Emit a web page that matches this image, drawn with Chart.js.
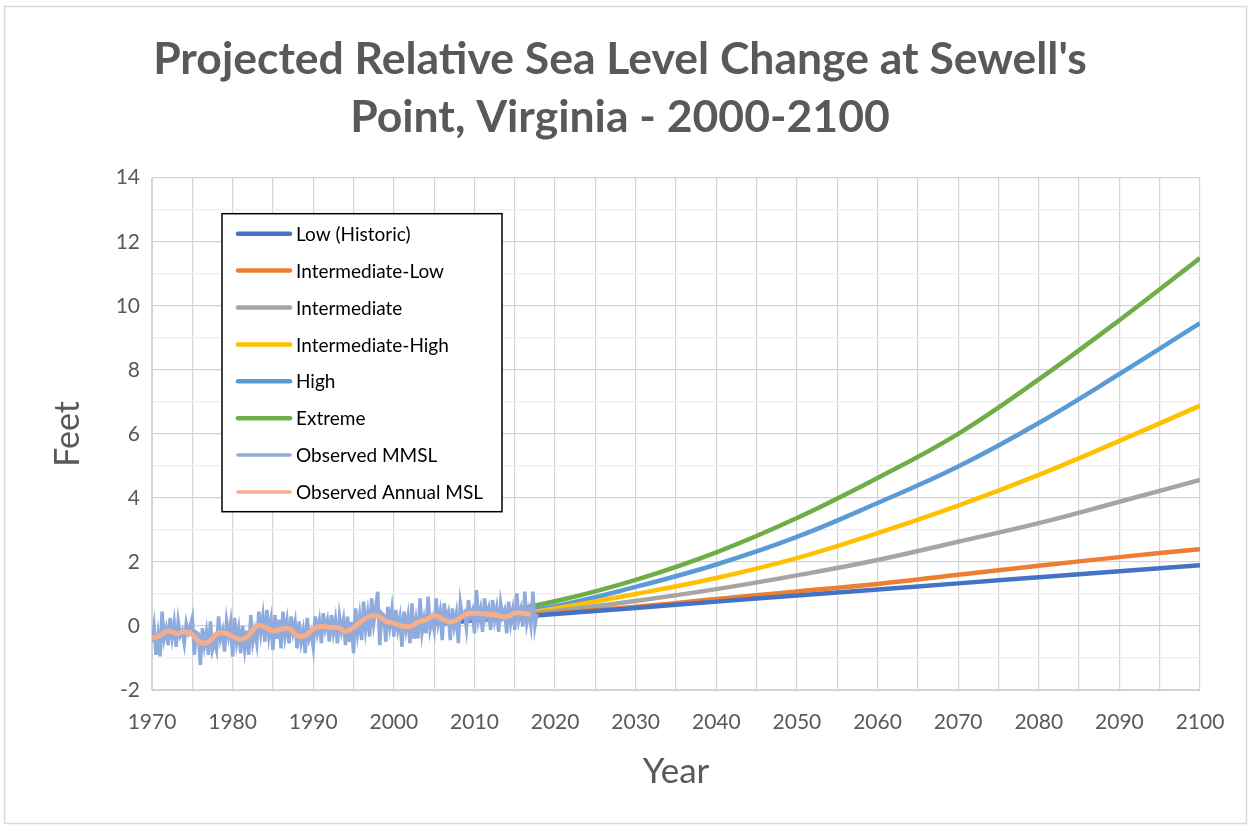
<!DOCTYPE html>
<html>
<head>
<meta charset="utf-8">
<script src="https://cdn.jsdelivr.net/npm/chart.js@4"></script>
<style>
  body { margin: 0; background: #fff; }
  canvas { display: block; }
</style>
</head>
<body>
<canvas id="slr-chart" width="1252" height="830"></canvas>
<script>
// projection years and scenarios (feet)
var projYears = [2000, 2010, 2020, 2030, 2040, 2050, 2060, 2070, 2080, 2090, 2100];
var lowHistoric      = [-0.02, 0.17, 0.37, 0.56, 0.76, 0.95, 1.14, 1.33, 1.52, 1.71, 1.90];
var intermediateLow  = [0.00, 0.20, 0.40, 0.60, 0.84, 1.08, 1.31, 1.60, 1.88, 2.15, 2.40];
var intermediate     = [0.00, 0.20, 0.47, 0.78, 1.15, 1.58, 2.06, 2.63, 3.21, 3.88, 4.56];
var intermediateHigh = [0.02, 0.20, 0.55, 1.00, 1.50, 2.12, 2.90, 3.76, 4.72, 5.78, 6.88];
var high             = [0.03, 0.25, 0.62, 1.22, 1.92, 2.78, 3.84, 4.98, 6.34, 7.87, 9.46];
var extreme          = [0.05, 0.30, 0.77, 1.44, 2.30, 3.37, 4.62, 6.00, 7.70, 9.55, 11.49];

// observed, starting 1970
var obsStartYear = 1970;
// annual mean sea level, one value per year
var annualMSL = [
  -0.38, -0.30, -0.15, -0.24, -0.18, -0.27, -0.52, -0.50, -0.25, -0.22,
  -0.33, -0.42, -0.30, 0.00, -0.04, -0.15, -0.10, -0.08, -0.30, -0.30,
  -0.10, -0.02, -0.04, -0.05, -0.17, -0.05, 0.15, 0.30, 0.30, 0.15,
  0.08, 0.00, -0.02, 0.12, 0.20, 0.32, 0.22, 0.12, 0.22, 0.38,
  0.40, 0.38, 0.36, 0.33, 0.28, 0.40, 0.40, 0.37
];
// mean sea level, four readings per year
var mmsl = [
  [-0.50, -0.02, -0.90, -0.30], [-0.95, 0.45, -0.40, -0.10], [-0.60, 0.25, -0.35, 0.10],
  [-0.65, 0.14, -0.30, -0.15], [-0.54, 0.08, -0.20, 0.00], [0.25, -0.90, -0.20, -0.25],
  [-1.22, -0.07, -0.60, -0.20], [-0.90, 0.14, -0.75, -0.50], [-0.75, 0.30, -0.40, -0.15],
  [-0.80, 0.14, -0.30, 0.10], [-0.96, 0.25, -0.50, -0.10], [-0.85, 0.00, -0.70, -0.15],
  [-0.90, 0.34, -0.50, -0.15], [-0.54, 0.45, -0.20, 0.30], [-0.49, 0.50, -0.30, 0.15],
  [-0.75, 0.34, -0.40, 0.20], [-0.70, 0.45, -0.30, 0.15], [-0.54, 0.30, -0.20, 0.12],
  [-0.70, 0.14, -0.50, -0.15], [-0.85, 0.25, -0.40, -0.20], [-0.65, 0.30, -0.20, 0.15],
  [-0.54, 0.40, -0.10, 0.16], [-0.49, 0.34, -0.20, 0.19], [-0.54, 0.30, -0.15, 0.19],
  [-0.60, 0.29, -0.50, 0.13], [-0.85, 0.55, -0.20, 0.30], [-0.44, 0.76, -0.10, 0.38],
  [-0.33, 0.86, 0.10, 0.57], [1.07, -0.60, 0.40, 0.33], [-0.49, 0.60, 0.00, 0.49],
  [-0.33, 0.50, -0.10, 0.25], [-0.65, 0.45, -0.10, 0.30], [-0.54, 0.71, -0.40, 0.15],
  [-0.39, 0.86, -0.20, 0.21], [-0.23, 0.92, -0.10, 0.21], [-0.12, 0.86, 0.10, 0.44],
  [-0.44, 0.71, 0.20, 0.41], [-0.44, 0.55, 0.00, 0.37], [-0.54, 0.71, 0.30, 0.41],
  [-0.07, 0.81, 0.30, 0.48], [-0.23, 1.12, 0.20, 0.51], [-0.18, 0.86, 0.30, 0.54],
  [-0.12, 0.81, 0.20, 0.55], [-0.18, 0.71, 0.30, 0.49], [-0.23, 0.76, 0.10, 0.49],
  [-0.12, 1.02, 0.20, 0.50], [-0.02, 1.07, 0.10, 0.45], [0.03, 1.07, 0.00, 0.38]
];

var textGray = '#595959';
var fontFamily = 'Lato, "Open Sans", sans-serif';

function toPoints(xs, ys) {
  return ys.map(function (v, i) { return { x: xs[i], y: v }; });
}

var annualPts = annualMSL.map(function (v, i) { return { x: obsStartYear + i, y: v }; });
var mmslPts = [];
mmsl.forEach(function (row, i) {
  row.forEach(function (v, q) {
    mmslPts.push({ x: obsStartYear + i + q / 4, y: v });
  });
});

function proj(label, color, values) {
  return {
    label: label,
    data: toPoints(projYears, values),
    borderColor: color,
    backgroundColor: color,
    borderWidth: 4.5,
    pointRadius: 0,
    tension: 0.4,
    order: 2
  };
}

// plain frame round the whole chart
var framePlugin = {
  id: 'frame',
  beforeDraw: function (chart) {
    var ctx = chart.ctx;
    ctx.save();
    ctx.fillStyle = '#fff';
    ctx.fillRect(0, 0, chart.width, chart.height);
    ctx.strokeStyle = '#d9d9d9';
    ctx.lineWidth = 1.5;
    ctx.strokeRect(4.5, 6.5, chart.width - 10, chart.height - 13);
    ctx.restore();
  }
};

// boxed legend inside the plot area
var boxLegend = {
  id: 'boxLegend',
  afterDraw: function (chart) {
    var ctx = chart.ctx;
    var area = chart.chartArea;
    var x0 = area.left + 70, y0 = area.top + 36;
    var w = 280, h = 298, rowH = 36.9;
    ctx.save();
    ctx.fillStyle = '#fff';
    ctx.fillRect(x0, y0, w, h);
    ctx.strokeStyle = '#000';
    ctx.lineWidth = 1.5;
    ctx.strokeRect(x0, y0, w, h);
    ctx.font = '19px ' + fontFamily;
    ctx.textBaseline = 'middle';
    ctx.lineCap = 'round';
    chart.data.datasets.forEach(function (ds, i) {
      var cy = y0 + 20 + i * rowH;
      ctx.strokeStyle = ds.borderColor;
      ctx.lineWidth = i < 6 ? 4.5 : 3.5;
      ctx.beginPath();
      ctx.moveTo(x0 + 16, cy);
      ctx.lineTo(x0 + 68, cy);
      ctx.stroke();
      ctx.fillStyle = '#000';
      ctx.fillText(ds.label, x0 + 74, cy + 1);
    });
    ctx.restore();
  }
};

var ctx = document.getElementById('slr-chart').getContext('2d');
var chart = new Chart(ctx, {
  type: 'line',
  data: {
    datasets: [
      proj('Low (Historic)', '#4472C4', lowHistoric),
      proj('Intermediate-Low', '#ED7D31', intermediateLow),
      proj('Intermediate', '#A5A5A5', intermediate),
      proj('Intermediate-High', '#FFC000', intermediateHigh),
      proj('High', '#5B9BD5', high),
      proj('Extreme', '#70AD47', extreme),
      {
        label: 'Observed MMSL',
        data: mmslPts,
        borderColor: '#8FAADC',
        backgroundColor: '#8FAADC',
        borderWidth: 3.5,
        pointRadius: 0,
        tension: 0,
        order: 1
      },
      {
        label: 'Observed Annual MSL',
        data: annualPts,
        borderColor: '#F4AE8A',
        backgroundColor: '#F4AE8A',
        borderWidth: 5,
        pointRadius: 0,
        tension: 0.4,
        order: 0
      }
    ]
  },
  options: {
    responsive: false,
    animation: false,
    devicePixelRatio: 1,
    layout: { padding: { left: 40, right: 52, top: 10, bottom: 30 } },
    plugins: {
      legend: { display: false },
      tooltip: { enabled: false },
      title: {
        display: true,
        text: ["Projected Relative Sea Level Change at Sewell's", 'Point, Virginia - 2000-2100'],
        color: textGray,
        font: { family: fontFamily, size: 44.5, weight: 'bold', lineHeight: 1.3 },
        padding: { top: 21, bottom: 31 }
      }
    },
    scales: {
      x: {
        type: 'linear',
        min: 1970,
        max: 2100,
        afterFit: function (scale) { scale.height = 110; },
        ticks: {
          stepSize: 5,
          autoSkip: false,
          maxRotation: 0,
          padding: 20,
          color: textGray,
          font: { family: fontFamily, size: 21 },
          callback: function (v) { return v % 10 === 0 ? String(v) : ''; }
        },
        grid: { color: '#d4d4d4', lineWidth: 1.2, drawTicks: false },
        border: { color: '#d4d4d4' },
        title: {
          display: true,
          text: 'Year',
          color: textGray,
          font: { family: fontFamily, size: 35 },
          padding: { top: 0, bottom: 7 }
        }
      },
      y: {
        min: -2,
        max: 14,
        afterFit: function (scale) { scale.width = 112; },
        ticks: {
          stepSize: 1,
          autoSkip: false,
          padding: 12,
          color: textGray,
          font: { family: fontFamily, size: 21 },
          callback: function (v) { return v % 2 === 0 ? String(v) : ''; }
        },
        grid: {
          drawTicks: false,
          lineWidth: 1.2,
          color: function (c) {
            return c.tick && Math.abs(c.tick.value % 2) === 1 ? '#eeeeee' : '#d4d4d4';
          }
        },
        border: { color: '#d4d4d4' },
        title: {
          display: true,
          text: 'Feet',
          color: textGray,
          font: { family: fontFamily, size: 34 },
          padding: { top: 8, bottom: 0 }
        }
      }
    }
  },
  plugins: [framePlugin, boxLegend]
});
</script>
</body>
</html>
